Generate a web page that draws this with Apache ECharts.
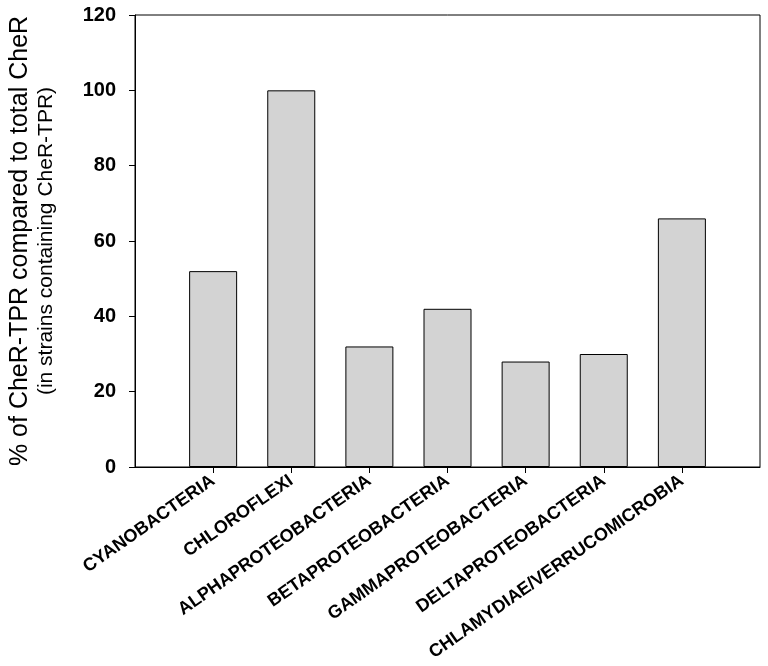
<!DOCTYPE html>
<html>
<head>
<meta charset="utf-8">
<script src="https://cdn.jsdelivr.net/npm/echarts@6/dist/echarts.min.js"></script>
<style>
  html, body { margin: 0; padding: 0; background: #fff; }
  #chart { width: 768px; height: 666px; }
</style>
</head>
<body>
<div id="chart"></div>
<script>
const categories = [
  'CYANOBACTERIA',
  'CHLOROFLEXI',
  'ALPHAPROTEOBACTERIA',
  'BETAPROTEOBACTERIA',
  'GAMMAPROTEOBACTERIA',
  'DELTAPROTEOBACTERIA',
  'CHLAMYDIAE/VERRUCOMICROBIA'
];
const percentTPR = [52, 100, 32, 42, 28, 30, 66];
const yTicks = [0, 20, 40, 60, 80, 100, 120];

// one empty slot at each end so the bars sit one step in from the frame
const xData = [''].concat(categories, ['']);
const barData = [null].concat(percentTPR, [null]);
const lastIdx = xData.length - 1;

const font = 'Liberation Sans, Arial, sans-serif';
const chart = echarts.init(document.getElementById('chart'));

const option = {
  backgroundColor: '#fff',
  animation: false,
  grid: {
    left: 132,
    right: 8,
    top: 15,
    bottom: 199,
    show: true,
    borderColor: '#000',
    borderWidth: 1
  },
  xAxis: {
    type: 'category',
    data: xData,
    boundaryGap: false,
    axisLine: { lineStyle: { color: '#000', width: 1 } },
    axisTick: {
      length: 6,
      lineStyle: { color: '#000' },
      interval: (idx) => idx !== 0 && idx !== lastIdx
    },
    axisLabel: {
      interval: 0,
      rotate: 35,
      margin: 12,
      color: '#000',
      fontFamily: font,
      fontWeight: 'bold',
      fontSize: 18
    },
    splitLine: { show: false }
  },
  yAxis: {
    type: 'value',
    min: yTicks[0],
    max: yTicks[yTicks.length - 1],
    interval: 20,
    axisLine: { show: true, lineStyle: { color: '#000', width: 1 } },
    axisTick: { show: true, length: 6, lineStyle: { color: '#000' } },
    axisLabel: {
      margin: 19,
      color: '#000',
      fontFamily: font,
      fontWeight: 'bold',
      fontSize: 20
    },
    splitLine: { show: false },
    name: '{a|% of CheR-TPR compared to total CheR}\n{b|(in strains containing CheR-TPR)}',
    nameLocation: 'middle',
    nameRotate: 90,
    nameGap: 77,
    nameTextStyle: {
      color: '#000',
      fontFamily: font,
      align: 'center',
      rich: {
        a: { fontSize: 25, lineHeight: 27, fontFamily: font, color: '#000' },
        b: { fontSize: 21, lineHeight: 24, fontFamily: font, color: '#000' }
      }
    }
  },
  series: [
    {
      type: 'bar',
      data: barData,
      barWidth: 48,
      itemStyle: {
        color: '#d3d3d3',
        borderColor: '#000',
        borderWidth: 1
      }
    }
  ]
};

chart.setOption(option);
</script>
</body>
</html>
